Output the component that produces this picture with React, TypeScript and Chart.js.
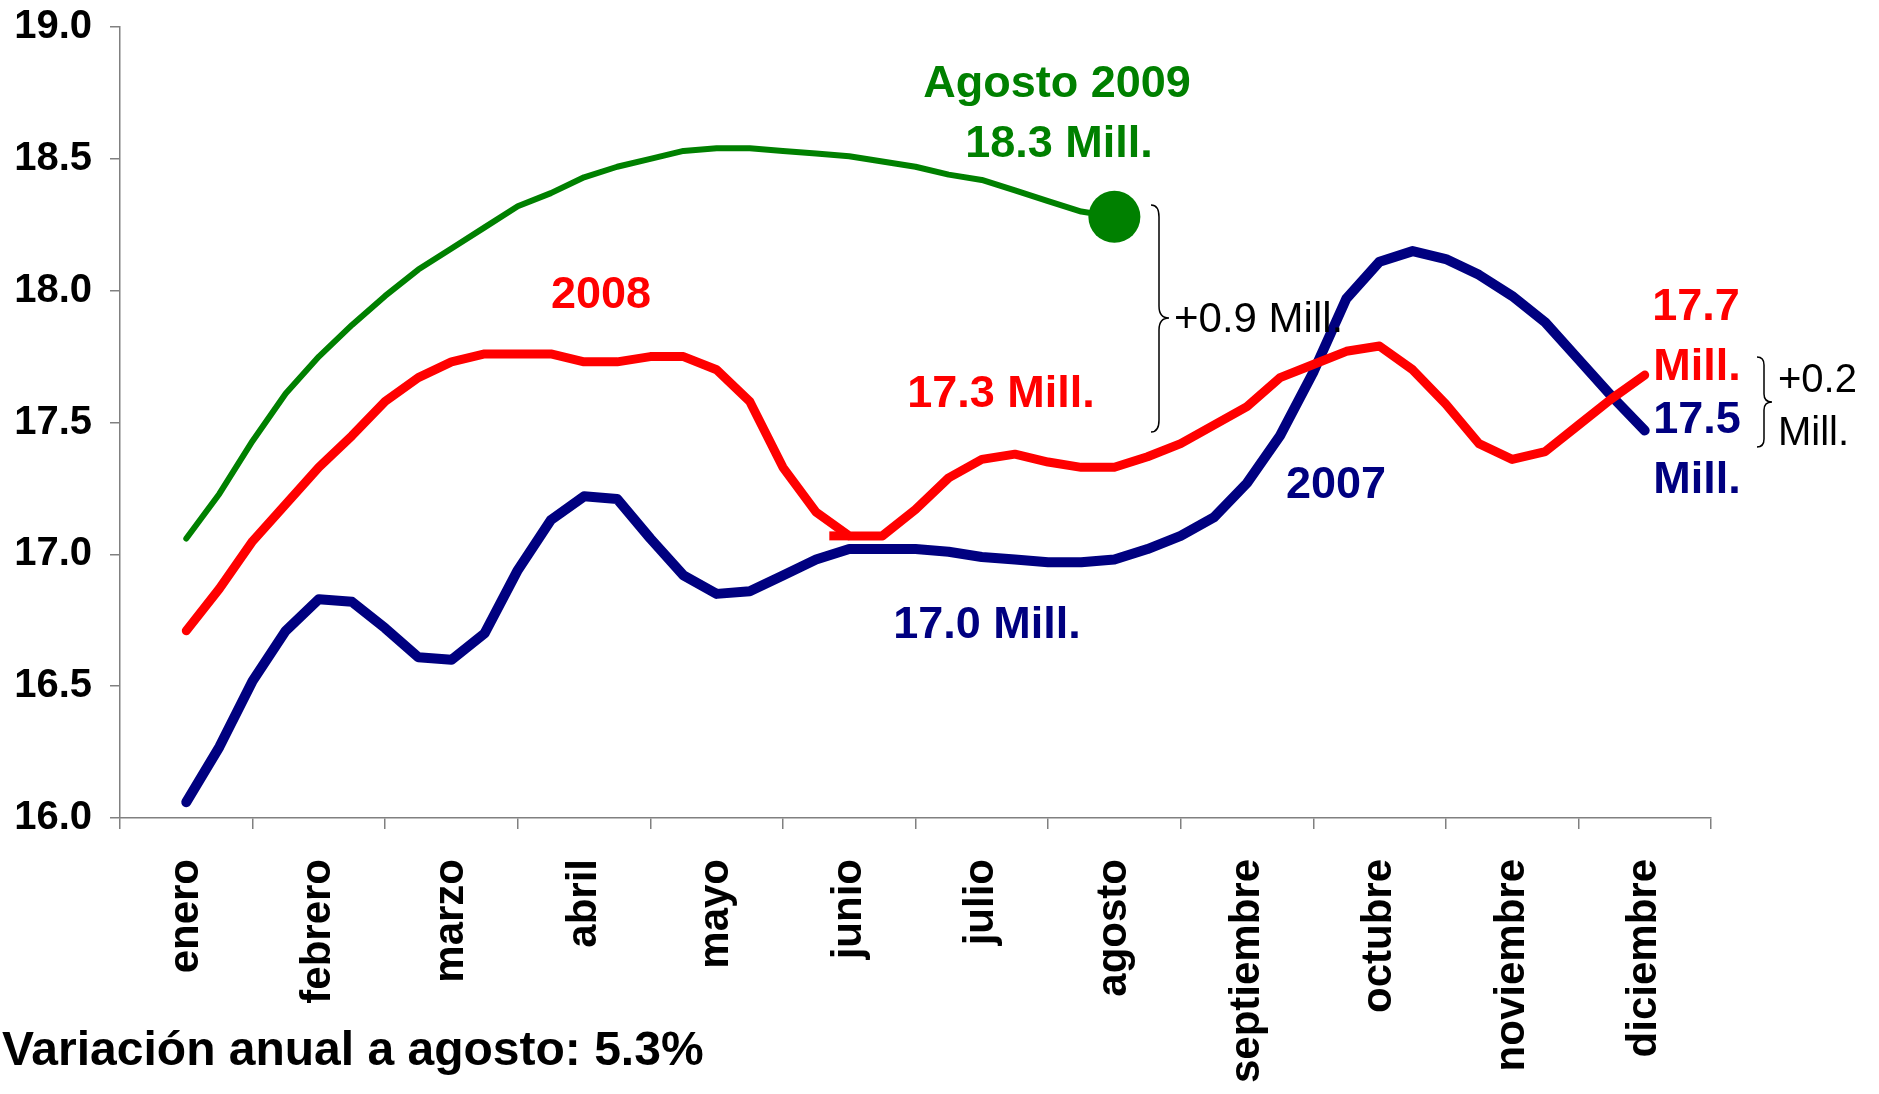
import React, { useEffect, useRef } from 'react';
import { Chart, registerables } from 'chart.js';

Chart.register(...registerables);

// ---------- data ----------
const MONTHS = [
  'enero', 'febrero', 'marzo', 'abril', 'mayo', 'junio',
  'julio', 'agosto', 'septiembre', 'octubre', 'noviembre', 'diciembre',
];

// weekly positions (4 per month), week 0 = mid enero, week 44 = mid diciembre
const WEEKS = Array.from({ length: 45 }, (_, i) => i);

const SERIES_2007 = [
  16.06, 16.27, 16.52, 16.71, 16.83, 16.82, 16.72, 16.61, 16.60, 16.70,
  16.94, 17.13, 17.22, 17.21, 17.06, 16.92, 16.85, 16.86, 16.92, 16.98,
  17.02, 17.02, 17.02, 17.01, 16.99, 16.98, 16.97, 16.97, 16.98, 17.02,
  17.07, 17.14, 17.27, 17.45, 17.69, 17.97, 18.11, 18.15, 18.12, 18.06,
  17.98, 17.88, 17.74, 17.60, 17.47,
];

const SERIES_2008 = [
  16.71, 16.87, 17.05, 17.19, 17.33, 17.45, 17.58, 17.67, 17.73, 17.76,
  17.76, 17.76, 17.73, 17.73, 17.75, 17.75, 17.70, 17.58, 17.33, 17.16,
  17.07, 17.07, 17.17, 17.29, 17.36, 17.38, 17.35, 17.33, 17.33, 17.37,
  17.42, 17.49, 17.56, 17.67, 17.72, 17.77, 17.79, 17.70, 17.57, 17.42,
  17.36, 17.39, 17.49, 17.59, 17.68,
];

const SERIES_2009 = [
  17.06, 17.23, 17.43, 17.61, 17.75, 17.87, 17.98, 18.08, 18.16, 18.24,
  18.32, 18.37, 18.43, 18.47, 18.50, 18.53, 18.54, 18.54, 18.53, 18.52,
  18.51, 18.49, 18.47, 18.44, 18.42, 18.38, 18.34, 18.30, 18.28,
];

// small red stub visible near junio in the original
const STUB_2008_X = [19.4, 20.0];
const STUB_2008_Y = [17.07, 17.07];

const X_TICKS = [-2, 0, 2, 4, 6, 8, 10, 12, 14, 16, 18, 20, 22, 24, 26, 28, 30, 32, 34, 36, 38, 40, 42, 44, 46];
const Y_MIN = 16.0;
const Y_MAX = 19.0;
const Y_STEP = 0.5;

// ---------- styles ----------
const FONT = '"Liberation Sans", Arial, Helvetica, sans-serif';
const NAVY = '#000080';
const RED = '#FF0000';
const GREEN = '#008000';
const AXIS = '#808080';

type Note = { text: string; x: number; y: number; color: string; font: string; align: CanvasTextAlign };

const BOLD45 = `bold 45px ${FONT}`;
const REG42 = `42px ${FONT}`;
const REG40 = `40px ${FONT}`;

const NOTES: Note[] = [
  { text: 'Agosto 2009', x: 1057, y: 97, color: GREEN, font: BOLD45, align: 'center' },
  { text: '18.3 Mill.', x: 1059, y: 157, color: GREEN, font: BOLD45, align: 'center' },
  { text: '2008', x: 601, y: 308, color: RED, font: BOLD45, align: 'center' },
  { text: '17.3 Mill.', x: 1001, y: 407, color: RED, font: BOLD45, align: 'center' },
  { text: '17.0 Mill.', x: 987, y: 638, color: NAVY, font: BOLD45, align: 'center' },
  { text: '2007', x: 1336, y: 498, color: NAVY, font: BOLD45, align: 'center' },
  { text: '17.7', x: 1696, y: 320, color: RED, font: BOLD45, align: 'center' },
  { text: 'Mill.', x: 1697, y: 380, color: RED, font: BOLD45, align: 'center' },
  { text: '17.5', x: 1697, y: 433, color: NAVY, font: BOLD45, align: 'center' },
  { text: 'Mill.', x: 1697, y: 493, color: NAVY, font: BOLD45, align: 'center' },
  { text: '+0.9 Mill.', x: 1174, y: 332, color: '#000', font: REG42, align: 'left' },
  { text: '+0.2', x: 1778, y: 392, color: '#000', font: REG40, align: 'left' },
  { text: 'Mill.', x: 1778, y: 445, color: '#000', font: REG40, align: 'left' },
  { text: 'Variación anual a agosto: 5.3%', x: 2, y: 1065, color: '#000', font: `bold 48px ${FONT}`, align: 'left' },
];

type Brace = { x0: number; xm: number; xTip: number; yTop: number; yMid: number; yBot: number; r: number };
const BRACES: Brace[] = [
  { x0: 1151, xm: 1159, xTip: 1169, yTop: 205, yMid: 318, yBot: 432, r: 12 },
  { x0: 1757, xm: 1764, xTip: 1772, yTop: 357, yMid: 402, yBot: 447, r: 8 },
];

const notesPlugin = {
  id: 'notes',
  afterDraw(chart: any) {
    const ctx = chart.ctx as CanvasRenderingContext2D;
    ctx.save();
    ctx.textBaseline = 'alphabetic';
    for (const n of NOTES) {
      ctx.font = n.font;
      ctx.fillStyle = n.color;
      ctx.textAlign = n.align;
      ctx.fillText(n.text, n.x, n.y);
    }
    ctx.strokeStyle = '#000';
    ctx.lineWidth = 1.5;
    for (const b of BRACES) {
      ctx.beginPath();
      ctx.moveTo(b.x0, b.yTop);
      ctx.quadraticCurveTo(b.xm, b.yTop, b.xm, b.yTop + b.r);
      ctx.lineTo(b.xm, b.yMid - b.r);
      ctx.quadraticCurveTo(b.xm, b.yMid, b.xTip, b.yMid);
      ctx.quadraticCurveTo(b.xm, b.yMid, b.xm, b.yMid + b.r);
      ctx.lineTo(b.xm, b.yBot - b.r);
      ctx.quadraticCurveTo(b.xm, b.yBot, b.x0, b.yBot);
      ctx.stroke();
    }
    ctx.restore();
  },
};

export default function App() {
  const canvasRef = useRef<HTMLCanvasElement | null>(null);

  useEffect(() => {
    if (!canvasRef.current) return;
    const last2009 = SERIES_2009.length - 1;
    const chart = new Chart(canvasRef.current, {
      type: 'line',
      data: {
        labels: WEEKS,
        datasets: [
          {
            label: '2009',
            data: SERIES_2009,
            borderColor: GREEN,
            backgroundColor: GREEN,
            borderWidth: 6,
            borderCapStyle: 'round',
            borderJoinStyle: 'round',
            tension: 0,
            pointRadius: (c: any) => (c.dataIndex === last2009 ? 26 : 0),
            pointBorderWidth: 0,
            pointHoverRadius: 0,
          },
          {
            label: '2008',
            data: SERIES_2008,
            borderColor: RED,
            borderWidth: 9,
            borderCapStyle: 'round',
            borderJoinStyle: 'round',
            tension: 0,
            pointRadius: 0,
          },
          {
            label: '2008 stub',
            data: STUB_2008_X.map((x, i) => ({ x, y: STUB_2008_Y[i] })),
            borderColor: RED,
            borderWidth: 9,
            borderCapStyle: 'butt',
            tension: 0,
            pointRadius: 0,
          },
          {
            label: '2007',
            data: SERIES_2007,
            borderColor: NAVY,
            borderWidth: 10,
            borderCapStyle: 'round',
            borderJoinStyle: 'round',
            tension: 0,
            pointRadius: 0,
          },
        ],
      },
      options: {
        responsive: false,
        animation: false,
        events: [],
        layout: { padding: { top: 27, right: 168, bottom: 0, left: 0 } },
        plugins: {
          legend: { display: false },
          tooltip: { enabled: false },
        },
        scales: {
          x: {
            type: 'linear',
            min: -2,
            max: 46,
            afterBuildTicks: (axis: any) => {
              axis.ticks = X_TICKS.map((v) => ({ value: v }));
            },
            afterFit: (axis: any) => {
              axis.height = 276;
              axis.paddingLeft = 0;
              axis.paddingRight = 0;
            },
            ticks: {
              autoSkip: false,
              minRotation: 90,
              maxRotation: 90,
              padding: 30,
              color: '#000',
              font: { family: FONT, size: 42, weight: 'bold' },
              callback: (v: any) => (Number(v) % 4 === 0 ? MONTHS[Number(v) / 4] : ''),
            },
            grid: {
              drawOnChartArea: false,
              drawTicks: true,
              tickLength: 11,
              lineWidth: 1.5,
              color: (c: any) =>
                c.tick && ((c.tick.value + 2) % 4 === 0) ? AXIS : 'rgba(0,0,0,0)',
            },
            border: { display: true, color: AXIS, width: 1.5 },
          },
          y: {
            type: 'linear',
            min: Y_MIN,
            max: Y_MAX,
            afterFit: (axis: any) => {
              axis.width = 120;
              axis.paddingTop = 0;
              axis.paddingBottom = 0;
            },
            ticks: {
              stepSize: Y_STEP,
              padding: 18,
              color: '#000',
              font: { family: FONT, size: 40, weight: 'bold' },
              callback: (v: any) => Number(v).toFixed(1),
            },
            grid: {
              drawOnChartArea: false,
              drawTicks: true,
              tickLength: 10,
              lineWidth: 1.5,
              color: AXIS,
            },
            border: { display: true, color: AXIS, width: 1.5 },
          },
        },
      } as any,
      plugins: [notesPlugin],
    });
    return () => chart.destroy();
  }, []);

  return (
    <div style={{ position: 'absolute', left: 0, top: 0, width: 1879, height: 1094, background: '#fff' }}>
      <canvas ref={canvasRef} width={1879} height={1094} style={{ display: 'block' }} />
    </div>
  );
}
